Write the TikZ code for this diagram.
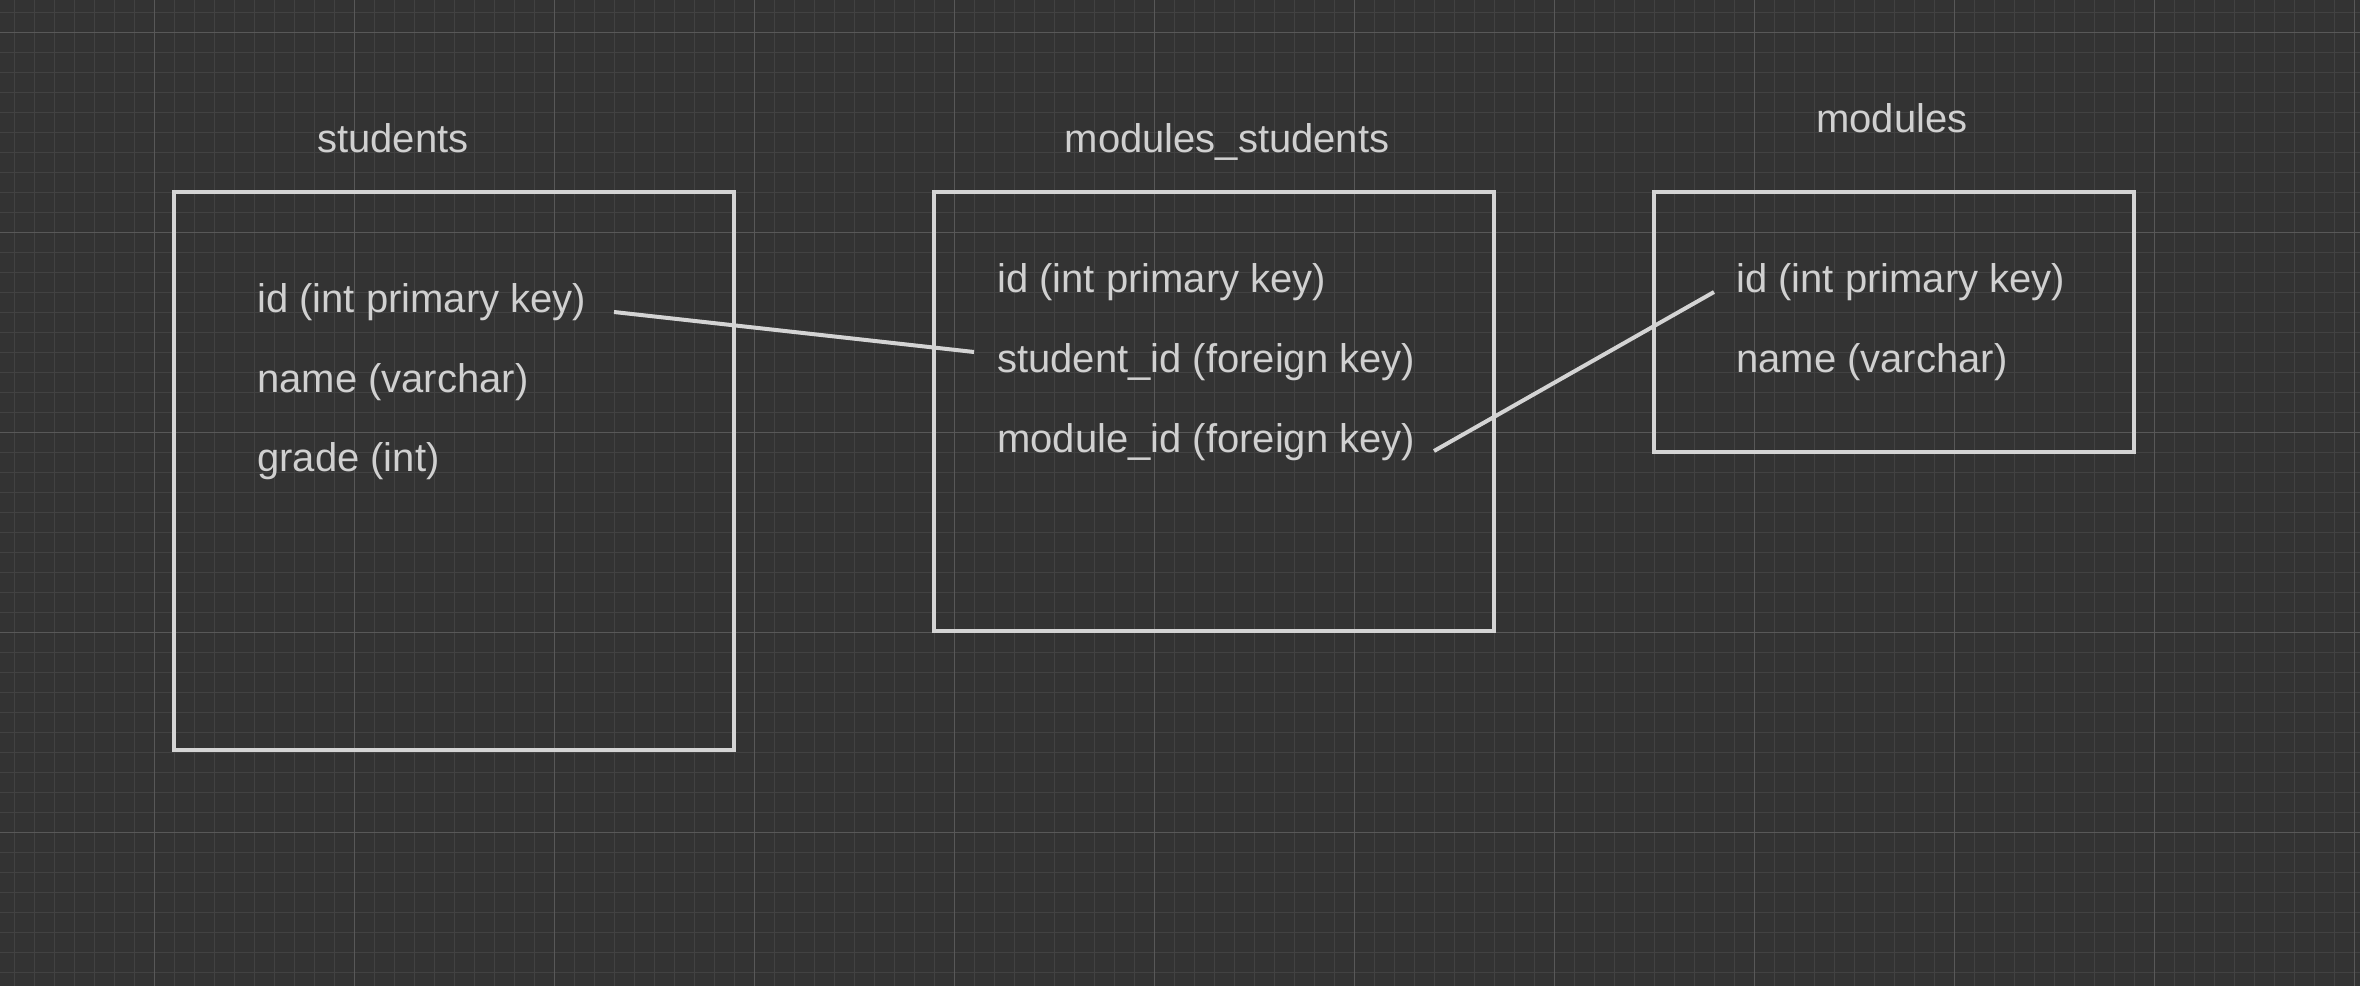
\documentclass[tikz,border=0pt]{standalone}
\usepackage{fontspec}
\setmainfont{Liberation Sans}
\definecolor{bgc}{RGB}{51,51,51}
\definecolor{minorc}{RGB}{66,66,66}
\definecolor{majorc}{RGB}{88,88,88}
\definecolor{inkc}{RGB}{212,212,212}
\definecolor{txtc}{RGB}{208,208,208}
\begin{document}
\begin{tikzpicture}[x=1pt,y=-1pt,
  minorline/.style={draw=minorc,line width=1pt},
  majorline/.style={draw=majorc,line width=1pt},
  tablebox/.style={draw=inkc,line width=4pt,inner sep=0pt},
  field/.style={anchor=base west,inner sep=0pt,text=txtc,font=\fontsize{40}{48}\selectfont},
  ttl/.style={anchor=base,inner sep=0pt,text=txtc,font=\fontsize{40}{48}\selectfont},
  link/.style={draw=inkc,line width=4pt}]
\fill[bgc] (0,0) rectangle (2360,986);
\useasboundingbox (0,0) rectangle (2360,986);
\foreach \x in {14,34,...,2354} \draw[minorline] (\x,0) -- (\x,986);
\foreach \y in {12,32,...,980} \draw[minorline] (0,\y) -- (2360,\y);
\foreach \x in {154,354,...,2354} \draw[majorline] (\x,0) -- (\x,986);
\foreach \y in {32,232,...,980} \draw[majorline] (0,\y) -- (2360,\y);
% tables
\node[tablebox,minimum width=560pt,minimum height=558pt] (students) at (454,471) {};
\node[tablebox,minimum width=560pt,minimum height=439pt] (ms) at (1214,411.5) {};
\node[tablebox,minimum width=480pt,minimum height=260pt] (modules) at (1894,322) {};
% titles
\node[ttl] (tstudents) at (393,152) {students};
\node[ttl] (tms) at (1227,152) {modules\_students};
\node[ttl] (tmodules) at (1892,132) {modules};
% fields
\node[field] (s1) at (257,312) {id (int primary key)};
\node[field] (s2) at (257,392) {name (varchar)};
\node[field] (s3) at (257,471) {grade (int)};
\node[field] (m1) at (997,292) {id (int primary key)};
\node[field] (m2) at (997,372) {student\_id (foreign key)};
\node[field] (m3) at (997,452) {module\_id (foreign key)};
\node[field] (d1) at (1736,292) {id (int primary key)};
\node[field] (d2) at (1736,372) {name (varchar)};
% connectors
\coordinate (l1a) at (614,312);
\coordinate (l1b) at (974,352);
\coordinate (l2a) at (1434,451);
\coordinate (l2b) at (1714,292);
\draw[link] (l1a) -- (l1b);
\draw[link] (l2a) -- (l2b);
\end{tikzpicture}
\end{document}
